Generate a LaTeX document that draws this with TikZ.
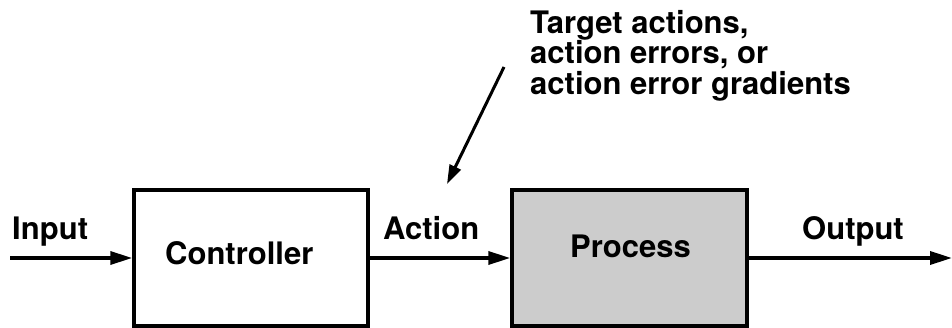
\documentclass[tikz,border=0pt]{standalone}
\usepackage{fontspec}
\setmainfont{TeX Gyre Heros}
\usetikzlibrary{arrows.meta}
\tikzset{
  blk/.style={draw=black, line width=3.5pt, inner sep=0pt},
  lbl/.style={inner sep=0pt, font=\fontsize{31}{30.5}\selectfont\bfseries},
  conn/.style={line width=3.5pt, -{Triangle[length=22pt,width=13pt]}},
}
\begin{document}
\begin{tikzpicture}[x=1pt,y=-1pt]
\useasboundingbox (0,0) rectangle (952,328);
% boxes
\node[blk, fill=white, minimum width=234pt, minimum height=136pt] (ctrl) at (251,258) {};
\node[blk, fill=black!20, minimum width=235pt, minimum height=136pt] (proc) at (629.5,258) {};
% texts
\node[lbl, anchor=base west] (ctrltxt) at (165,265) {Controller};
\node[lbl, anchor=base west] (proctxt) at (570,258) {Process};
\node[lbl, anchor=base west] (intxt) at (12,240) {Input};
\node[lbl, anchor=base west] (acttxt) at (383,240) {Action};
\node[lbl, anchor=base west] (outtxt) at (802,240) {Output};
\node[lbl, anchor=north west, align=left] (target) at (530,10) {Target actions,\\action errors, or\\action error gradients};
% connector ends
\coordinate (inStart) at (10,258);
\coordinate (outEnd) at (952,258);
\coordinate (diagStart) at (504,67);
\coordinate (diagEnd) at (447,184);
% connectors
\draw[conn] (inStart) -- (ctrl.west |- inStart);
\draw[conn] (ctrl.east |- inStart) -- (proc.west |- inStart);
\draw[conn] (proc.east |- inStart) -- (outEnd);
\draw[line width=3pt, -{Triangle[length=19pt,width=12pt]}] (diagStart) -- (diagEnd);
\end{tikzpicture}
\end{document}
